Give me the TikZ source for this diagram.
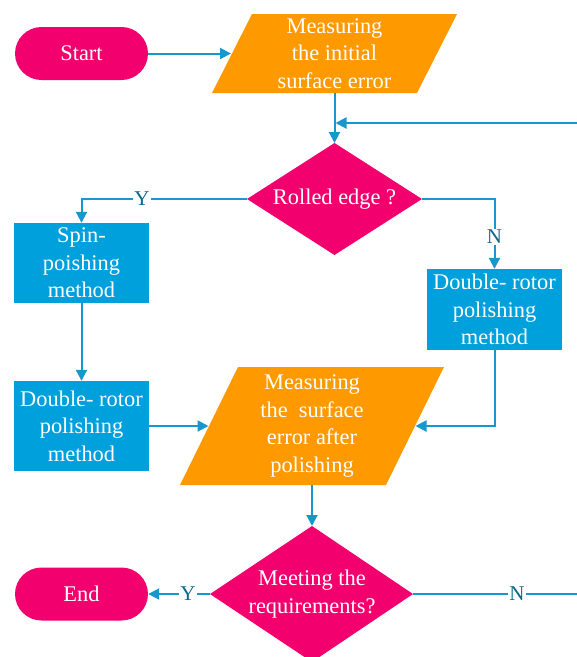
\documentclass[tikz,border=0pt]{standalone}
\usepackage{fontspec}
\setmainfont{Liberation Serif}
\newfontfamily\timesx{Liberation Serif}
\usetikzlibrary{arrows.meta}
\definecolor{pinkc}{HTML}{F2006E}
\definecolor{orangec}{HTML}{FF9900}
\definecolor{bluec}{HTML}{00A0DC}
\definecolor{linec}{HTML}{1797CC}
\definecolor{labc}{HTML}{0A6A8C}
\tikzset{
 boxtext/.style={text=white, align=center, font=\timesx\fontsize{22.4}{27.5}\selectfont, inner sep=0pt},
 procbox/.style={boxtext, fill=bluec, minimum width=135pt},
 term/.style={boxtext, fill=pinkc, minimum width=133pt, minimum height=53pt, rounded corners=26.5pt},
 conn/.style={draw=linec, line width=2pt, -{Triangle[length=11pt,width=11pt]}},
 lab/.style={text=labc, fill=white, inner sep=1.5pt, font=\timesx\fontsize{21}{24}\selectfont},
}
\begin{document}
\begin{tikzpicture}[x=1pt,y=-1pt]
\useasboundingbox (0,0) rectangle (577,657);
\clip (0,0) rectangle (577,657);
% shapes
\node[term] (start) at (81.5,53.5) {Start};
\fill[orangec] (212,93) -- (252,14) -- (457,14) -- (417,93) -- cycle;
\node[boxtext] (p1) at (334.5,53.5) {Measuring\\the initial\\surface error};
\coordinate (p1w) at (231,53.5);
\coordinate (p1s) at (334.5,93);
\fill[pinkc] (247,199) -- (334.5,143) -- (422,199) -- (334.5,255) -- cycle;
\node[boxtext] (d1) at (334.5,199) {Rolled edge ?};
\coordinate (d1n) at (334.5,143);
\coordinate (d1w) at (247,199);
\coordinate (d1e) at (422,199);
\node[procbox, minimum height=80pt] (spin) at (81.5,263) {Spin-\\poishing\\method};
\node[procbox, minimum height=90pt] (dr1) at (81.5,426) {Double- rotor\\polishing\\method};
\node[procbox, minimum height=81pt] (dr2) at (494.5,309.5) {Double- rotor\\polishing\\method};
\fill[orangec] (180,485) -- (238,367) -- (444,367) -- (386,485) -- cycle;
\node[boxtext] (p2) at (312,426) {Measuring\\the\ \ surface\\error after\\polishing};
\coordinate (p2w) at (208.5,426);
\coordinate (p2e) at (415.5,426);
\coordinate (p2s) at (312,485);
\fill[pinkc] (210,594) -- (312,526) -- (413,594) -- (312,662) -- cycle;
\node[boxtext] (d2) at (312,594) {Meeting the\\requirements?};
\coordinate (d2n) at (312,526);
\coordinate (d2w) at (210,594);
\coordinate (d2e) at (413,594);
\node[term] (stop) at (81.5,594) {End};
\coordinate (loopR) at (600,594);
\coordinate (loopin) at (335.5,123);
% connectors
\draw[conn] (start.east) -- (p1w);
\draw[conn] (p1s) -- (d1n);
\draw[conn] (d1w) -| (spin.north);
\draw[conn] (d1e) -| (dr2.north);
\draw[conn] (spin.south) -- (dr1.north);
\draw[conn] (dr1.east) -- (p2w);
\draw[conn] (dr2.south) |- (p2e);
\draw[conn] (p2s) -- (d2n);
\draw[conn] (d2w) -- (stop.east);
\draw[conn] (d2e) -- (loopR) |- (loopin);
% labels
\node[lab] (y1) at (142,199) {Y};
\node[lab] (n1) at (494.5,237) {N};
\node[lab] (y2) at (188,594) {Y};
\node[lab] (n2) at (517,594) {N};
\end{tikzpicture}
\end{document}
